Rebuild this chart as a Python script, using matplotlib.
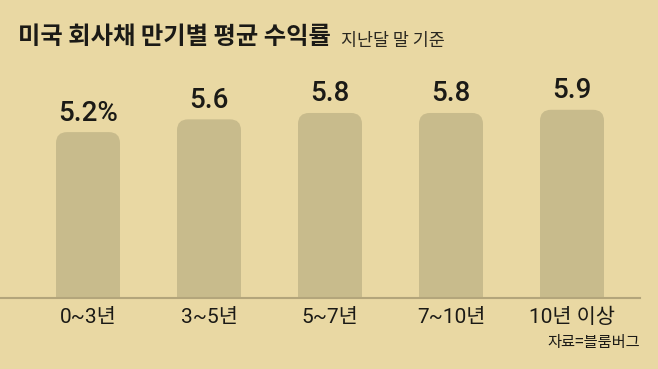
import matplotlib
matplotlib.use("Agg")
import matplotlib.pyplot as plt
from matplotlib.patches import FancyBboxPatch
from matplotlib import font_manager as fm

categories = ["0~3년", "3~5년", "5~7년", "7~10년", "10년 이상"]
values = [5.2, 5.6, 5.8, 5.8, 5.9]
value_labels = ["5.2%", "5.6", "5.8", "5.8", "5.9"]
title = "미국 회사채 만기별 평균 수익률"
subtitle = "지난달 말 기준"
source = "자료=블룸버그"

names = {f.name for f in fm.fontManager.ttflist}
narrow = "Liberation Sans Narrow" if "Liberation Sans Narrow" in names else "Roboto"
fam = [narrow, "Noto Sans CJK KR", "DejaVu Sans"]
kfam = ["Noto Sans CJK KR", "DejaVu Sans"]

BG = "#E9D8A3"
BAR = "#C8BB8C"
TXT = "#1B1A16"

W, H = 658, 369
fig = plt.figure(figsize=(W / 100, H / 100), dpi=100, facecolor=BG)

ax = fig.add_axes([0 / W, (H - 298) / H, 640 / W, (298 - 70) / H])
ax.set_facecolor(BG)
px_per_unit_x = 121.0
px_per_unit_y = 31.9
x0 = -88 / px_per_unit_x
ax.set_xlim(x0, x0 + 640 / px_per_unit_x)
ax.set_ylim(0, 228 / px_per_unit_y)
for s in ax.spines.values():
    s.set_visible(False)
ax.set_xticks([])
ax.set_yticks([])

bw = 64 / px_per_unit_x
r_px = 11
r_x = r_px / px_per_unit_x
aspect = px_per_unit_x / px_per_unit_y
for i, v in enumerate(values):
    p = FancyBboxPatch((i - bw / 2, -1), bw, v + 1,
                       boxstyle=f"round,pad=0,rounding_size={r_x}",
                       mutation_aspect=aspect, facecolor=BAR,
                       edgecolor="none", clip_on=True, zorder=2)
    ax.add_patch(p)
    ax.annotate(value_labels[i], (i, v), xytext=(0, 4), textcoords="offset points",
                ha="center", va="bottom", fontsize=20, family=fam,
                fontweight="medium", color=TXT, zorder=3)
    ax.annotate(categories[i], (i, 0), xytext=(0, -7), textcoords="offset points",
                ha="center", va="top", fontsize=15, family=fam,
                color=TXT, annotation_clip=False)

ax.axhline(0, color="#B3A57B", lw=1.5, zorder=4, clip_on=False)

t = fig.text(18 / W, 1 - 37 / H, title, fontsize=17.5, fontweight="heavy",
             family=kfam, color=TXT, va="center", ha="left")
fig.canvas.draw()
bb = t.get_window_extent()
fig.text((bb.x1 + 10) / W, 1 - 41 / H, subtitle, fontsize=12.5,
         family=kfam, color="#2A2820", va="center", ha="left")
fig.text(640 / W, 1 - 343 / H, source, fontsize=11,
         family=kfam, color=TXT, va="center", ha="right")

fig.savefig("out.png", dpi=100, facecolor=BG)
